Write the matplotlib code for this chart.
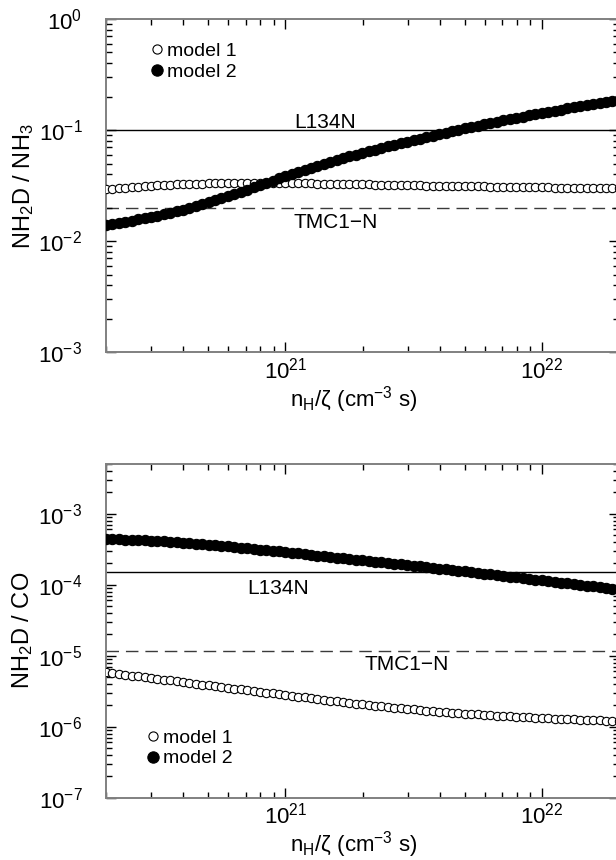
"""Deuterated ammonia ratios versus n_H/zeta for two chemical models."""

import matplotlib

matplotlib.use("Agg")

import matplotlib.pyplot as plt

plt.rcParams["font.family"] = ["Liberation Sans", "DejaVu Sans"]
plt.rcParams["mathtext.fontset"] = "custom"
plt.rcParams["mathtext.rm"] = "Liberation Sans"
plt.rcParams["mathtext.it"] = "Liberation Sans:italic"
plt.rcParams["mathtext.default"] = "regular"

# n_H / zeta sampling (units of 1e20 cm^-3 s)
nh_zeta = [
    2.00, 2.12, 2.24, 2.38, 2.52, 2.67, 2.83, 2.99, 3.17, 3.36,
    3.56, 3.77, 3.99, 4.23, 4.48, 4.74, 5.02, 5.32, 5.64, 5.97,
    6.32, 6.70, 7.10, 7.52, 7.96, 8.43, 8.93, 9.46, 10.0, 10.59,
    11.22, 11.89, 12.59, 13.34, 14.13, 14.96, 15.85, 16.79, 17.78, 18.84,
    19.95, 21.13, 22.39, 23.71, 25.12, 26.61, 28.18, 29.85, 31.62, 33.50,
    35.48, 37.58, 39.81, 42.17, 44.67, 47.32, 50.12, 53.09, 56.23, 59.57,
    63.10, 66.83, 70.79, 74.99, 79.43, 84.14, 89.13, 94.41, 100.0, 105.9,
    112.2, 118.9, 125.9, 133.4, 141.3, 149.6, 158.5, 167.9, 177.8, 188.4,
    199.5,
]

# NH2D / NH3 (units of 1e-2)
nh3_model1 = [
    2.94, 2.97, 3.00, 3.04, 3.07, 3.10, 3.13, 3.16, 3.18, 3.20,
    3.22, 3.24, 3.26, 3.27, 3.29, 3.30, 3.31, 3.32, 3.32, 3.33,
    3.33, 3.34, 3.34, 3.34, 3.34, 3.34, 3.34, 3.33, 3.33, 3.33,
    3.32, 3.32, 3.31, 3.30, 3.30, 3.29, 3.28, 3.27, 3.27, 3.26,
    3.25, 3.24, 3.23, 3.23, 3.22, 3.21, 3.20, 3.20, 3.19, 3.18,
    3.17, 3.17, 3.16, 3.15, 3.14, 3.14, 3.13, 3.12, 3.12, 3.11,
    3.10, 3.10, 3.09, 3.08, 3.08, 3.07, 3.07, 3.06, 3.05, 3.05,
    3.04, 3.04, 3.03, 3.03, 3.02, 3.02, 3.01, 3.01, 3.00, 3.00,
    3.00,
]
nh3_model2 = [
    1.396, 1.429, 1.462, 1.496, 1.531, 1.571, 1.612, 1.655, 1.698, 1.753,
    1.809, 1.868, 1.928, 2.001, 2.078, 2.157, 2.239, 2.338, 2.441, 2.548,
    2.661, 2.786, 2.918, 3.055, 3.199, 3.350, 3.508, 3.673, 3.846, 4.016,
    4.193, 4.378, 4.571, 4.759, 4.954, 5.158, 5.370, 5.575, 5.787, 6.008,
    6.237, 6.456, 6.682, 6.917, 7.161, 7.392, 7.630, 7.875, 8.128, 8.390,
    8.660, 8.939, 9.226, 9.495, 9.772, 10.06, 10.35, 10.65, 10.96, 11.28,
    11.61, 11.92, 12.23, 12.55, 12.88, 13.22, 13.57, 13.92, 14.29, 14.62,
    14.96, 15.31, 15.67, 16.03, 16.41, 16.79, 17.18, 17.58, 17.99, 18.41,
    18.84,
]

# NH2D / CO
co_model1 = [  # units of 1e-6
    5.821, 5.672, 5.527, 5.386, 5.248, 5.111, 4.977, 4.847, 4.721, 4.598,
    4.477, 4.360, 4.246, 4.135, 4.027, 3.921, 3.819, 3.719, 3.622, 3.528,
    3.436, 3.346, 3.258, 3.173, 3.090, 3.011, 2.934, 2.859, 2.786, 2.715,
    2.645, 2.578, 2.512, 2.451, 2.391, 2.332, 2.275, 2.222, 2.170, 2.119,
    2.070, 2.025, 1.982, 1.939, 1.897, 1.859, 1.822, 1.786, 1.750, 1.719,
    1.688, 1.658, 1.629, 1.604, 1.579, 1.555, 1.531, 1.510, 1.490, 1.469,
    1.449, 1.431, 1.414, 1.397, 1.380, 1.366, 1.352, 1.338, 1.324, 1.312,
    1.300, 1.288, 1.276, 1.266, 1.256, 1.246, 1.236, 1.227, 1.219, 1.210,
    1.202,
]
co_model2 = [  # units of 1e-4
    4.406, 4.375, 4.345, 4.315, 4.285, 4.241, 4.197, 4.154, 4.111, 4.055,
    3.999, 3.944, 3.890, 3.828, 3.767, 3.707, 3.648, 3.581, 3.516, 3.451,
    3.388, 3.320, 3.254, 3.189, 3.126, 3.060, 2.996, 2.933, 2.871, 2.809,
    2.748, 2.688, 2.630, 2.573, 2.517, 2.463, 2.410, 2.358, 2.307, 2.257,
    2.208, 2.160, 2.113, 2.068, 2.023, 1.978, 1.934, 1.891, 1.849, 1.807,
    1.766, 1.726, 1.687, 1.648, 1.609, 1.572, 1.535, 1.498, 1.462, 1.427,
    1.393, 1.360, 1.328, 1.296, 1.265, 1.235, 1.205, 1.176, 1.148, 1.121,
    1.094, 1.068, 1.042, 1.017, 0.993, 0.969, 0.946, 0.924, 0.902, 0.880,
    0.859,
]

# observed values
nh3_observed = {"L134N": 0.1, "TMC1\u2212N": 0.02}
co_observed = {"L134N": 1.5e-4, "TMC1\u2212N": 1.15e-5}

x_values = [v * 1e20 for v in nh_zeta]
SPINE_GREY = "#808080"


def style_axes(axes, ylim):
    axes.set_xscale("log")
    axes.set_yscale("log")
    axes.set_xlim(2e20, 2e22)
    axes.set_ylim(*ylim)
    for spine in axes.spines.values():
        spine.set_color(SPINE_GREY)
        spine.set_linewidth(1.4)
    axes.tick_params(
        which="both",
        direction="in",
        top=True,
        right=True,
        width=1.0,
        labelsize=16,
    )
    axes.tick_params(which="major", length=7)
    axes.tick_params(which="minor", length=4)
    axes.tick_params(axis="y", pad=17)
    axes.tick_params(axis="x", pad=3.5)
    axes.set_xlabel("n$_H$/\u03b6 (cm$^{-3}$ s)", fontsize=16, labelpad=0.5)
    axes.xaxis.label.set_x(0.483)


def draw_panel(axes, model1, model2, scale, observed, texts, legend_anchor):
    y1 = [v * scale[0] for v in model1]
    y2 = [v * scale[1] for v in model2]

    names = list(observed)
    axes.axhline(observed[names[0]], color="black", linewidth=1.0, zorder=1)
    axes.axhline(
        observed[names[1]],
        color="#3a3a3a",
        linewidth=1.0,
        linestyle=(0, (9, 5)),
        zorder=1,
    )
    for name, (tx, ty) in zip(names, texts):
        axes.text(tx, ty, name, fontsize=15, ha="left", va="baseline")

    axes.plot(
        x_values,
        y1,
        linestyle="none",
        marker="o",
        markersize=6.0,
        markerfacecolor="white",
        markeredgecolor="black",
        markeredgewidth=0.8,
        label="model 1",
        zorder=3,
    )
    axes.plot(
        x_values,
        y2,
        linestyle="none",
        marker="o",
        markersize=7.4,
        markerfacecolor="black",
        markeredgecolor="black",
        markeredgewidth=0.8,
        label="model 2",
        zorder=4,
    )
    axes.legend(
        loc="upper left",
        bbox_to_anchor=legend_anchor,
        frameon=False,
        fontsize=14,
        borderpad=0,
        borderaxespad=0,
        handlelength=0.8,
        handletextpad=0.1,
        labelspacing=0.17,
        markerscale=1.1,
    )


figure = plt.figure(figsize=(6.16, 8.6), dpi=100)
left = 106 / 616
width = 513 / 616
top_axes = figure.add_axes([left, 1 - 352.3 / 860, width, 333.3 / 860])
bottom_axes = figure.add_axes([left, 1 - 797.7 / 860, width, 333.7 / 860])

style_axes(top_axes, (1e-3, 1.0))
draw_panel(
    top_axes,
    nh3_model1,
    nh3_model2,
    (1e-2, 1e-2),
    nh3_observed,
    [(1.08e21, 0.105), (1.08e21, 0.0131)],
    (0.084, 0.931),
)
top_axes.set_ylabel("NH$_2$D / NH$_3$", fontsize=17, labelpad=2)

style_axes(bottom_axes, (1e-7, 5e-3))
draw_panel(
    bottom_axes,
    co_model1,
    co_model2,
    (1e-6, 1e-4),
    co_observed,
    [(7.1e20, 7.46e-5), (2.04e21, 6.2e-6)],
    (0.0764, 0.206),
)
bottom_axes.set_ylabel("NH$_2$D / CO", fontsize=17, labelpad=2)

figure.savefig("out.png", dpi=100)
plt.close(figure)
